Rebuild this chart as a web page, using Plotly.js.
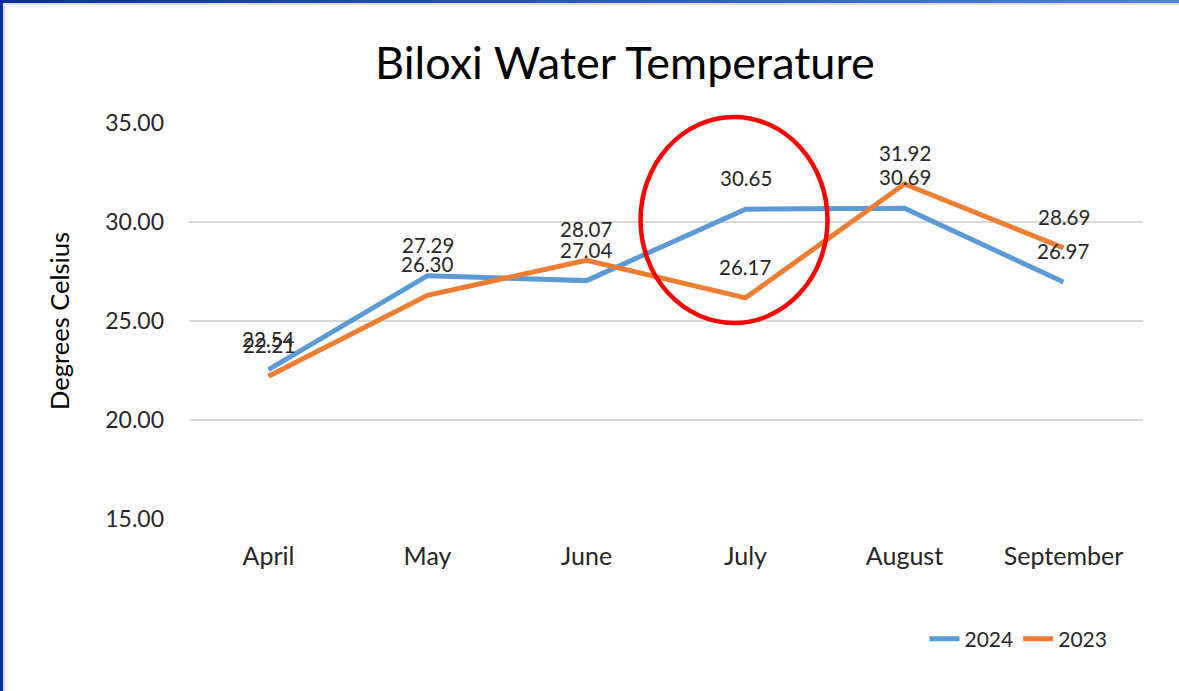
<!DOCTYPE html>
<html>
<head>
<meta charset="utf-8">
<script src="https://cdn.plot.ly/plotly-3.0.1.min.js"></script>
<style>
  html, body { margin: 0; padding: 0; background: #fff; }
  #wrap { position: relative; width: 1179px; height: 691px; overflow: hidden; }
  #chart { position: absolute; left: 0; top: 0; width: 1179px; height: 691px; }
  #frameTop { position: absolute; left: 0; top: 0; width: 1179px; height: 3px;
    background: linear-gradient(to right, #0b2f9e, #2a56c8 50%, #4f82e0); }
  #frameTop2 { position: absolute; left: 0; top: 3px; width: 1179px; height: 2px; background: #dcdfe2; }
  #frameLeft { position: absolute; left: 0; top: 0; width: 3px; height: 691px; background: #0b2f9e; }
  #frameLeft2 { position: absolute; left: 3px; top: 3px; width: 2px; height: 688px; background: #dcdfe2; }
</style>
</head>
<body>
<div id="wrap">
  <div id="chart"></div>
  <div id="frameTop"></div>
  <div id="frameTop2"></div>
  <div id="frameLeft"></div>
  <div id="frameLeft2"></div>
</div>
<script>
const months = ["April", "May", "June", "July", "August", "September"];
const temps2024 = [22.54, 27.29, 27.04, 30.65, 30.69, 26.97];
const temps2023 = [22.21, 26.30, 28.07, 26.17, 31.92, 28.69];
const yTicks = [15, 20, 25, 30, 35];
const yTickLabels = ["15.00", "20.00", "25.00", "30.00", "35.00"];

const FONT = "Lato, 'Open Sans', sans-serif";
const blue = "#5B9BD5";
const orange = "#ED7D31";

const traces = [
  { x: months, y: temps2024, name: "2024", type: "scatter", mode: "lines",
    line: { color: blue, width: 5 }, hoverinfo: "skip" },
  { x: months, y: temps2023, name: "2023", type: "scatter", mode: "lines",
    line: { color: orange, width: 5 }, hoverinfo: "skip" }
];

const annotations = [];
[temps2024, temps2023].forEach(series => {
  series.forEach((v, i) => {
    annotations.push({
      x: months[i], y: v, xref: "x", yref: "y",
      text: v.toFixed(2), showarrow: false, yshift: 31,
      font: { family: FONT, size: 20.5, color: "#262626" }
    });
  });
});

const layout = {
  width: 1179, height: 691,
  margin: { l: 188.5, r: 35.5, t: 123, b: 172 },
  paper_bgcolor: "#ffffff", plot_bgcolor: "#ffffff",
  showlegend: true,
  title: {
    text: "Biloxi Water Temperature",
    font: { family: FONT, size: 45, color: "#000000" },
    x: 0.53, xref: "container", xanchor: "center",
    y: 0.908, yref: "container", yanchor: "middle"
  },
  xaxis: {
    type: "category", range: [-0.5, 5.5],
    showgrid: false, zeroline: false, showline: false,
    ticks: "", ticklabelstandoff: 20,
    tickfont: { family: FONT, size: 25, color: "#262626" },
    fixedrange: true
  },
  yaxis: {
    range: [15, 35], tickvals: yTicks, ticktext: yTickLabels,
    showgrid: true, gridcolor: "#d9d9d9", gridwidth: 1.5,
    zeroline: false, showline: false, ticks: "",
    ticklabelstandoff: 24,
    tickfont: { family: FONT, size: 23, color: "#262626" },
    title: { text: "Degrees Celsius", standoff: 28,
      font: { family: FONT, size: 25.5, color: "#000000" } },
    fixedrange: true
  },
  legend: {
    orientation: "h", x: 0.968, xanchor: "right", y: -0.303, yanchor: "middle",
    font: { family: FONT, size: 21, color: "#262626" },
    bgcolor: "rgba(0,0,0,0)", traceorder: "normal"
  },
  annotations: annotations,
  shapes: [{
    type: "circle", xref: "x", yref: "paper",
    x0: 2.34, x1: 3.516, y0: 0.495, y1: 1.015,
    line: { color: "#ff0000", width: 4.5 }, fillcolor: "rgba(0,0,0,0)", layer: "above"
  }]
};

Plotly.newPlot("chart", traces, layout, { staticPlot: true, displayModeBar: false });
</script>
</body>
</html>
